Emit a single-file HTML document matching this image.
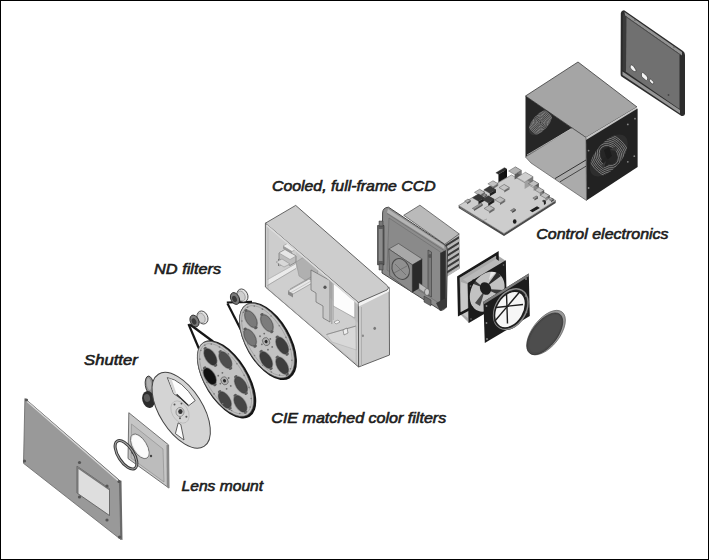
<!DOCTYPE html>
<html><head><meta charset="utf-8">
<style>
html,body{margin:0;padding:0;background:#fff;}
body{width:709px;height:560px;overflow:hidden;position:relative;}
svg{position:absolute;left:0;top:0;}
.t{font-family:"Liberation Sans",sans-serif;font-style:italic;font-weight:normal;font-size:14.6px;fill:#1c1c1c;stroke:#1c1c1c;stroke-width:0.6px;}
</style></head>
<body>
<svg width="709" height="560" viewBox="0 0 709 560">
<g>
<rect x="0" y="0" width="709" height="560" fill="#fff"/>
<path d="M620.8,13 Q621.5,10 624.5,10.4 L683,51 Q685,52.5 685,55 L685,114 Q684.5,116.5 681.5,116 L621.5,76.5 Q620.5,75.5 620.6,74 Z" fill="#2c2c2c"/>
<polygon points="624.5,12 682,52 682,55.5 625,15.5" fill="#929292" />
<polygon points="622.5,71.5 680,110 680,113.5 622.5,75" fill="#969696" />
<polygon points="626,16.5 679.5,54 679.5,109 625.5,71.5" fill="#707070" />
<polygon points="623,14 626.5,16.5 626,72 622.5,70" fill="#3a3a3a" />
<line x1="626" y1="16.8" x2="679.5" y2="54.3" stroke="#4a4a4a" stroke-width="0.9"/>
<path d="M630.2,65.8 Q631.5,64 633.5,66 L636,70 Q636.5,72.5 634,71.5 L631.5,69.5 Q629.8,68 630.2,65.8 Z" fill="#f4f4f4" stroke="#2a2a2a" stroke-width="0.6"/>
<path d="M641.5,73 Q642,72 643.5,73 L646.8,76 Q647.8,77 647.6,78.5 L647.4,80 Q647,81 645.5,80 L642.3,77.3 Q641.4,76.5 641.4,75 Z" fill="#f4f4f4" stroke="#2a2a2a" stroke-width="0.6"/>
<path d="M649.4,79.5 Q650,78.6 651.2,79.5 L653.2,81.5 Q654,82.5 653.6,83.6 Q653,84.4 651.8,83.6 L650,82 Q649.2,81 649.4,79.5 Z" fill="#f4f4f4" stroke="#2a2a2a" stroke-width="0.6"/>
<ellipse cx="668.5" cy="95" rx="0.9" ry="0.9" transform="rotate(0 668.5 95)" fill="#444" />
<ellipse cx="635" cy="20" rx="0.8" ry="0.8" transform="rotate(0 635 20)" fill="#555" />
<ellipse cx="674" cy="47" rx="0.8" ry="0.8" transform="rotate(0 674 47)" fill="#555" />
<polygon points="578,62 525.5,96 586,137.5 637,107" fill="#a5a5a5" stroke="#3a3a3a" stroke-width="0.8" />
<polygon points="586,137.5 637,107 637,110 586,140.5" fill="#c4c4c4" />
<polygon points="586,140 637.6,108.6 637.6,167 586.5,200.5" fill="#222222" />
<polygon points="525.5,96 572,128 525.5,157" fill="#262626" />
<polygon points="525.5,157 572,128 586,137.5 586.5,200.5 531,163" fill="#ababab" stroke="#444" stroke-width="0.6" />
<line x1="555" y1="178.6" x2="586" y2="160" stroke="#333" stroke-width="1.0"/>
<line x1="560" y1="181.8" x2="586" y2="166.2" stroke="#3a3a3a" stroke-width="0.9"/>
<line x1="527" y1="155" x2="571" y2="129" stroke="#c8c8c8" stroke-width="0.8"/>
<clipPath id="cpF1"><ellipse cx="608.8" cy="155.5" rx="25" ry="13" transform="rotate(-50 608.8 155.5)"/></clipPath>
<ellipse cx="608.8" cy="155.5" rx="25" ry="13" transform="rotate(-50 608.8 155.5)" fill="#2e2e2e" />
<g clip-path="url(#cpF1)">
<ellipse cx="608.8" cy="155.5" rx="19.0" ry="24.0" transform="rotate(-40 608.8 155.5)" fill="none" stroke="#8e8e8e" stroke-width="0.75" />
<ellipse cx="608.8" cy="155.5" rx="17.27" ry="21.82" transform="rotate(-40 608.8 155.5)" fill="none" stroke="#8e8e8e" stroke-width="0.75" />
<ellipse cx="608.8" cy="155.5" rx="15.55" ry="19.64" transform="rotate(-40 608.8 155.5)" fill="none" stroke="#8e8e8e" stroke-width="0.75" />
<ellipse cx="608.8" cy="155.5" rx="13.82" ry="17.45" transform="rotate(-40 608.8 155.5)" fill="none" stroke="#8e8e8e" stroke-width="0.75" />
<ellipse cx="608.8" cy="155.5" rx="12.09" ry="15.27" transform="rotate(-40 608.8 155.5)" fill="none" stroke="#8e8e8e" stroke-width="0.75" />
<ellipse cx="608.8" cy="155.5" rx="10.36" ry="13.09" transform="rotate(-40 608.8 155.5)" fill="none" stroke="#8e8e8e" stroke-width="0.75" />
<ellipse cx="608.8" cy="155.5" rx="8.64" ry="10.91" transform="rotate(-40 608.8 155.5)" fill="none" stroke="#8e8e8e" stroke-width="0.75" />
<ellipse cx="608.8" cy="155.5" rx="6.91" ry="8.73" transform="rotate(-40 608.8 155.5)" fill="none" stroke="#8e8e8e" stroke-width="0.75" />
<ellipse cx="608.8" cy="155.5" rx="5.18" ry="6.55" transform="rotate(-40 608.8 155.5)" fill="none" stroke="#8e8e8e" stroke-width="0.75" />
<ellipse cx="608.8" cy="155.5" rx="3.45" ry="4.36" transform="rotate(-40 608.8 155.5)" fill="none" stroke="#8e8e8e" stroke-width="0.75" />
<ellipse cx="608.8" cy="155.5" rx="1.73" ry="2.18" transform="rotate(-40 608.8 155.5)" fill="none" stroke="#8e8e8e" stroke-width="0.75" />
</g>
<ellipse cx="608.8" cy="155.5" rx="8" ry="9.5" transform="rotate(-40 608.8 155.5)" fill="#262626" />
<polygon points="604,150 609,147 612,156 607,160" fill="#1c1c1c" />
<polygon points="601,160 606,157 611,163 605,167" fill="#232323" />
<polygon points="610,150 616,146 617,151" fill="#3a3a3a" />
<polygon points="606,161 601,166 604,168" fill="#3a3a3a" />
<clipPath id="cpBack"><polygon points="525.5,96 572,128 525.5,157"/></clipPath>
<g clip-path="url(#cpBack)">
<clipPath id="cpF2"><ellipse cx="540.5" cy="122.5" rx="15" ry="8" transform="rotate(-48 540.5 122.5)"/></clipPath>
<ellipse cx="540.5" cy="122.5" rx="15" ry="8" transform="rotate(-48 540.5 122.5)" fill="#353535" />
<g clip-path="url(#cpF2)">
<ellipse cx="540.5" cy="122.5" rx="12.0" ry="14.0" transform="rotate(-40 540.5 122.5)" fill="none" stroke="#9a9a9a" stroke-width="0.7" />
<ellipse cx="540.5" cy="122.5" rx="10.67" ry="12.44" transform="rotate(-40 540.5 122.5)" fill="none" stroke="#9a9a9a" stroke-width="0.7" />
<ellipse cx="540.5" cy="122.5" rx="9.33" ry="10.89" transform="rotate(-40 540.5 122.5)" fill="none" stroke="#9a9a9a" stroke-width="0.7" />
<ellipse cx="540.5" cy="122.5" rx="8.0" ry="9.33" transform="rotate(-40 540.5 122.5)" fill="none" stroke="#9a9a9a" stroke-width="0.7" />
<ellipse cx="540.5" cy="122.5" rx="6.67" ry="7.78" transform="rotate(-40 540.5 122.5)" fill="none" stroke="#9a9a9a" stroke-width="0.7" />
<ellipse cx="540.5" cy="122.5" rx="5.33" ry="6.22" transform="rotate(-40 540.5 122.5)" fill="none" stroke="#9a9a9a" stroke-width="0.7" />
<ellipse cx="540.5" cy="122.5" rx="4.0" ry="4.67" transform="rotate(-40 540.5 122.5)" fill="none" stroke="#9a9a9a" stroke-width="0.7" />
<ellipse cx="540.5" cy="122.5" rx="2.67" ry="3.11" transform="rotate(-40 540.5 122.5)" fill="none" stroke="#9a9a9a" stroke-width="0.7" />
<ellipse cx="540.5" cy="122.5" rx="1.33" ry="1.56" transform="rotate(-40 540.5 122.5)" fill="none" stroke="#9a9a9a" stroke-width="0.7" />
</g>
</g>
<ellipse cx="627.8" cy="124.4" rx="0.9" ry="0.9" transform="rotate(0 627.8 124.4)" fill="#888" />
<ellipse cx="635" cy="118.7" rx="0.9" ry="0.9" transform="rotate(0 635 118.7)" fill="#888" />
<ellipse cx="588.6" cy="150.6" rx="0.9" ry="0.9" transform="rotate(0 588.6 150.6)" fill="#888" />
<ellipse cx="634.3" cy="156.2" rx="0.9" ry="0.9" transform="rotate(0 634.3 156.2)" fill="#888" />
<ellipse cx="627.8" cy="161.8" rx="0.9" ry="0.9" transform="rotate(0 627.8 161.8)" fill="#888" />
<ellipse cx="588.6" cy="188" rx="0.9" ry="0.9" transform="rotate(0 588.6 188)" fill="#888" />
<polygon points="458.7,205.5 504,233.5 555.7,200.5 555.7,203 504,236 458.7,208" fill="#4a4a4a" />
<polygon points="458.7,205.5 511.5,175 555.7,200.5 504,233.5" fill="#cdcdcd" stroke="#6a6a6a" stroke-width="0.6" />
<line x1="460" y1="207.5" x2="482" y2="221" stroke="#8a8a8a" stroke-width="0.6"/>
<line x1="482" y1="221" x2="487" y2="219" stroke="#8a8a8a" stroke-width="0.6"/>
<polygon points="498.43,182.36 506.96,177.15 506.96,169.15 498.43,174.36" fill="#141414" />
<polygon points="504.37,175.64 506.96,177.15 506.96,169.15 504.37,167.64" fill="#0e0e0e" />
<polygon points="495.84,172.85 504.37,167.64 506.96,169.15 498.43,174.36" fill="#2a2a2a" stroke="#3a3a3a" stroke-width="0.4" />
<polygon points="493.03,188.88 498.15,185.75 498.15,183.75 493.03,186.88" fill="#6a6a6a" />
<polygon points="492.97,182.72 498.15,185.75 498.15,183.75 492.97,180.72" fill="#8a8a8a" />
<polygon points="487.85,183.85 492.97,180.72 498.15,183.75 493.03,186.88" fill="#c2c2c2" stroke="#3a3a3a" stroke-width="0.4" />
<polygon points="489.83,196.29 495.81,192.64 495.81,189.64 489.83,193.29" fill="#1e1e1e" />
<polygon points="489.76,189.11 495.81,192.64 495.81,189.64 489.76,186.11" fill="#2a2a2a" />
<polygon points="483.79,189.76 489.76,186.11 495.81,189.64 489.83,193.29" fill="#3a3a3a" stroke="#3a3a3a" stroke-width="0.4" />
<polygon points="479.63,197.38 484.75,194.25 484.75,192.25 479.63,195.38" fill="#6a6a6a" />
<polygon points="479.57,191.22 484.75,194.25 484.75,192.25 479.57,189.22" fill="#8a8a8a" />
<polygon points="474.45,192.35 479.57,189.22 484.75,192.25 479.63,195.38" fill="#bcbcbc" stroke="#3a3a3a" stroke-width="0.4" />
<polygon points="478.53,204.29 484.51,200.64 484.51,197.64 478.53,201.29" fill="#1c1c1c" />
<polygon points="478.46,197.11 484.51,200.64 484.51,197.64 478.46,194.11" fill="#262626" />
<polygon points="472.49,197.76 478.46,194.11 484.51,197.64 478.53,201.29" fill="#363636" stroke="#3a3a3a" stroke-width="0.4" />
<polygon points="488.23,205.89 494.21,202.24 494.21,199.24 488.23,202.89" fill="#1e1e1e" />
<polygon points="488.16,198.71 494.21,202.24 494.21,199.24 488.16,195.71" fill="#2a2a2a" />
<polygon points="482.19,199.36 488.16,195.71 494.21,199.24 488.23,202.89" fill="#3a3a3a" stroke="#3a3a3a" stroke-width="0.4" />
<polygon points="504.23,192.58 509.35,189.45 509.35,187.45 504.23,190.58" fill="#6a6a6a" />
<polygon points="504.17,186.42 509.35,189.45 509.35,187.45 504.17,184.42" fill="#8a8a8a" />
<polygon points="499.05,187.55 504.17,184.42 509.35,187.45 504.23,190.58" fill="#c4c4c4" stroke="#3a3a3a" stroke-width="0.4" />
<polygon points="500.03,204.88 505.15,201.75 505.15,199.75 500.03,202.88" fill="#6a6a6a" />
<polygon points="499.97,198.72 505.15,201.75 505.15,199.75 499.97,196.72" fill="#8a8a8a" />
<polygon points="494.85,199.85 499.97,196.72 505.15,199.75 500.03,202.88" fill="#bdbdbd" stroke="#3a3a3a" stroke-width="0.4" />
<polygon points="489.23,213.48 494.35,210.35 494.35,208.35 489.23,211.48" fill="#6a6a6a" />
<polygon points="489.17,207.32 494.35,210.35 494.35,208.35 489.17,205.32" fill="#8a8a8a" />
<polygon points="484.05,208.45 489.17,205.32 494.35,208.35 489.23,211.48" fill="#bababa" stroke="#3a3a3a" stroke-width="0.4" />
<polygon points="467.09,204.2 470.5,202.12 470.5,200.62 467.09,202.7" fill="#555" />
<polygon points="467.91,200.6 470.5,202.12 470.5,200.62 467.91,199.1" fill="#777" />
<polygon points="464.5,201.18 467.91,199.1 470.5,200.62 467.09,202.7" fill="#b0b0b0" stroke="#3a3a3a" stroke-width="0.4" />
<polygon points="474.0,210.91 482.53,205.7 482.53,204.2 474.0,209.41" fill="#555" />
<polygon points="480.8,204.69 482.53,205.7 482.53,204.2 480.8,203.19" fill="#666" />
<polygon points="472.27,208.4 480.8,203.19 482.53,204.2 474.0,209.41" fill="#9a9a9a" stroke="#3a3a3a" stroke-width="0.4" />
<polygon points="484.51,197.54 487.07,195.98 487.07,194.98 484.51,196.54" fill="#444" />
<polygon points="484.49,194.46 487.07,195.98 487.07,194.98 484.49,193.46" fill="#555" />
<polygon points="481.93,195.02 484.49,193.46 487.07,194.98 484.51,196.54" fill="#888" stroke="#3a3a3a" stroke-width="0.4" />
<polygon points="514.61,179.55 521.43,175.38 521.43,170.38 514.61,174.55" fill="#5a5a5a" />
<polygon points="515.39,171.85 521.43,175.38 521.43,170.38 515.39,166.85" fill="#7a7a7a" />
<polygon points="508.57,171.02 515.39,166.85 521.43,170.38 514.61,174.55" fill="#b4b4b4" stroke="#3a3a3a" stroke-width="0.4" />
<polygon points="524.62,188.98 533.15,183.77 533.15,176.77 524.62,181.98" fill="#a0a0a0" />
<polygon points="525.38,179.22 533.15,183.77 533.15,176.77 525.38,172.22" fill="#7a7a7a" />
<polygon points="516.85,177.43 525.38,172.22 533.15,176.77 524.62,181.98" fill="#cfcfcf" stroke="#555" stroke-width="0.4" />
<polygon points="533.63,190.68 538.75,187.55 538.75,183.55 533.63,186.68" fill="#8a8a8a" />
<polygon points="533.57,184.52 538.75,187.55 538.75,183.55 533.57,180.52" fill="#5a5a5a" />
<polygon points="528.45,183.65 533.57,180.52 538.75,183.55 533.63,186.68" fill="#c0c0c0" stroke="#3a3a3a" stroke-width="0.4" />
<polygon points="539.86,196.02 544.12,193.41 544.12,190.41 539.86,193.02" fill="#8a8a8a" />
<polygon points="538.94,190.38 544.12,193.41 544.12,190.41 538.94,187.38" fill="#5a5a5a" />
<polygon points="534.68,189.99 538.94,187.38 544.12,190.41 539.86,193.02" fill="#c0c0c0" stroke="#3a3a3a" stroke-width="0.4" />
<polygon points="545.36,201.22 549.62,198.61 549.62,195.61 545.36,198.22" fill="#8a8a8a" />
<polygon points="544.44,195.58 549.62,198.61 549.62,195.61 544.44,192.58" fill="#5a5a5a" />
<polygon points="540.18,195.19 544.44,192.58 549.62,195.61 545.36,198.22" fill="#c0c0c0" stroke="#3a3a3a" stroke-width="0.4" />
<polygon points="543.91,205.03 545.62,203.98 545.62,200.98 543.91,202.03" fill="#222" />
<polygon points="543.89,202.97 545.62,203.98 545.62,200.98 543.89,199.97" fill="#222" />
<polygon points="542.18,201.02 543.89,199.97 545.62,200.98 543.91,202.03" fill="#333" stroke="#3a3a3a" stroke-width="0.4" />
<polygon points="534.56,200.55 537.97,198.46 537.97,196.96 534.56,199.05" fill="#555" />
<polygon points="536.24,197.45 537.97,198.46 537.97,196.96 536.24,195.95" fill="#666" />
<polygon points="532.83,198.04 536.24,195.95 537.97,196.96 534.56,199.05" fill="#9a9a9a" stroke="#3a3a3a" stroke-width="0.4" />
<polygon points="512.16,213.05 515.57,210.96 515.57,209.46 512.16,211.55" fill="#444" />
<polygon points="513.84,209.95 515.57,210.96 515.57,209.46 513.84,208.45" fill="#555" />
<polygon points="510.43,210.54 513.84,208.45 515.57,209.46 512.16,211.55" fill="#8a8a8a" stroke="#3a3a3a" stroke-width="0.4" />
<polygon points="531,210.5 537,207 538.5,208 532.5,211.5" fill="#1e1e1e" stroke="#1e1e1e" stroke-width="1.4" />
<ellipse cx="514.7" cy="221.5" rx="1.8" ry="2.3" transform="rotate(0 514.7 221.5)" fill="#1e1e1e" />
<polygon points="551.08,202.29 553.64,200.72 553.64,199.22 551.08,200.79" fill="#444" />
<polygon points="551.92,199.71 553.64,200.72 553.64,199.22 551.92,198.21" fill="#555" />
<polygon points="549.36,199.78 551.92,198.21 553.64,199.22 551.08,200.79" fill="#999" stroke="#3a3a3a" stroke-width="0.4" />
<polygon points="443,244 459.2,233.9 459.5,268.5 443.5,278" fill="#3a3a3a" />
<polygon points="443.3,243.4 459.2,233.6 459.2,236.1 443.3,245.9" fill="#b8b8b8" />
<line x1="443.3" y1="243.2" x2="459.2" y2="233.4" stroke="#e0e0e0" stroke-width="0.6"/>
<polygon points="443.3,248.9 459.2,239.1 459.2,241.6 443.3,251.4" fill="#b8b8b8" />
<line x1="443.3" y1="248.7" x2="459.2" y2="238.9" stroke="#e0e0e0" stroke-width="0.6"/>
<polygon points="443.3,254.4 459.2,244.6 459.2,247.1 443.3,256.9" fill="#b8b8b8" />
<line x1="443.3" y1="254.2" x2="459.2" y2="244.4" stroke="#e0e0e0" stroke-width="0.6"/>
<polygon points="443.3,259.9 459.2,250.1 459.2,252.6 443.3,262.4" fill="#b8b8b8" />
<line x1="443.3" y1="259.7" x2="459.2" y2="249.9" stroke="#e0e0e0" stroke-width="0.6"/>
<polygon points="443.3,265.4 459.2,255.6 459.2,258.1 443.3,267.9" fill="#b8b8b8" />
<line x1="443.3" y1="265.2" x2="459.2" y2="255.4" stroke="#e0e0e0" stroke-width="0.6"/>
<polygon points="443.3,270.90000000000003 459.2,261.1 459.2,263.6 443.3,273.40000000000003" fill="#b8b8b8" />
<line x1="443.3" y1="270.70000000000005" x2="459.2" y2="260.90000000000003" stroke="#e0e0e0" stroke-width="0.6"/>
<polygon points="443.3,276.40000000000003 459.2,266.6 459.2,269.1 443.3,278.90000000000003" fill="#b8b8b8" />
<line x1="443.3" y1="276.20000000000005" x2="459.2" y2="266.40000000000003" stroke="#e0e0e0" stroke-width="0.6"/>
<polygon points="403.7,215.3 419.9,205.2 459.2,233.9 444.8,244.3" fill="#bababa" stroke="#444" stroke-width="0.7" />
<polygon points="444.8,247.2 447,246 447,306 445.7,309" fill="#3a3a3a" />
<path d="M382.6,213 Q382.6,207.6 388.5,207.2 L444.5,244.5 Q448,247 447.5,252 L446.5,305 Q446,309.5 441,310.5 L382,273 Z" fill="#8c8c8c" stroke="#3a3a3a" stroke-width="0.9"/>
<polygon points="388,209 444,245.5 444.5,249 387,212.5" fill="#b4b4b4" />
<line x1="387" y1="213.5" x2="444" y2="250.5" stroke="#6a6a6a" stroke-width="0.7"/>
<polygon points="389,218 440.5,252 440.5,304 387,270" fill="#8a8a8a" stroke="#6a6a6a" stroke-width="0.6" />
<polygon points="440.3,253 445.8,250 445.8,305 440.3,306" fill="#2e2e2e" />
<polygon points="428,250 431.5,252 431.5,297 428,295" fill="#7a7a7a" stroke="#3a3a3a" stroke-width="0.6" />
<ellipse cx="430" cy="256" rx="2" ry="2" transform="rotate(0 430 256)" fill="#555" />
<polygon points="388.8,249 398.5,243.5 422.2,259 412.3,264.8" fill="#a8a8a8" stroke="#444" stroke-width="0.6" />
<polygon points="388.8,249 412.3,264.8 412.3,292.4 389.7,275.7" fill="#8a8a8a" stroke="#444" stroke-width="0.6" />
<polygon points="412.3,264.8 422.2,259 422.2,286.5 412.3,292.4" fill="#2a2a2a" />
<ellipse cx="400.7" cy="269" rx="8.3" ry="10.8" transform="rotate(-25 400.7 269)" fill="#909090" stroke="#4a4a4a" stroke-width="1.0" />
<line x1="395" y1="264" x2="406" y2="275" stroke="#666" stroke-width="0.7"/>
<line x1="394" y1="273" x2="407" y2="266" stroke="#666" stroke-width="0.7"/>
<polygon points="419,283 428,289 428,295 419,289" fill="#bdbdbd" stroke="#555" stroke-width="0.5" />
<ellipse cx="427" cy="292" rx="2.5" ry="3.5" transform="rotate(0 427 292)" fill="#c8c8c8" stroke="#444" stroke-width="0.6" />
<polygon points="424,296 431,300 431,306 424,302" fill="#6a6a6a" stroke="#333" stroke-width="0.5" />
<polygon points="436,303 446,298 447,307 440,311" fill="#3a3a3a" />
<polygon points="377.5,225.5 384,225.5 384,264.8 377.5,264.8" fill="#5c5c5c" stroke="#2a2a2a" stroke-width="0.6" />
<polygon points="378.8,229 382.5,229 382.5,261 378.8,261" fill="#8c8c8c" />
<polygon points="379,221 383,221 383,226 379,226" fill="#777" stroke="#333" stroke-width="0.5" />
<polygon points="379,264 383,264 383,270 379,270" fill="#777" stroke="#333" stroke-width="0.5" />
<polygon points="459.5,278 497,255 506,261 506,301 469,323 459.5,313.5" fill="#a9a9a9" />
<polygon points="461,282 467,284 468,318 461,313" fill="#c8c8c8" />
<polygon points="458.4,277.1 497.4,253.4 498,294 459.2,314.4" fill="none" stroke="#1a1a1a" stroke-width="2.6" />
<polygon points="463,279.5 496,259 503,263.5 470,284" fill="#b9b9b9" />
<ellipse cx="487.2" cy="291.7" rx="21.5" ry="16" transform="rotate(-59 487.2 291.7)" fill="#c2c2c2" />
<polygon points="486,287 497,272 501,276" fill="#2e2e2e" />
<polygon points="486,289 503,290 501,296" fill="#3a3a3a" />
<polygon points="485,290 480,306 475,303" fill="#4a4a4a" />
<polygon points="484,288 471,283 473,279" fill="#3a3a3a" />
<polygon points="489,280 496,272 491,271" fill="#e8e8e8" />
<polygon points="490,296 498,303 494,306" fill="#e4e4e4" />
<ellipse cx="485.5" cy="288.5" rx="5.5" ry="6.5" transform="rotate(-25 485.5 288.5)" fill="#1e1e1e" />
<path d="M467.7,283 L505.8,260.2 L506.7,300.8 L468.6,322.9 Z M498.17,273.44 L499.84,274.66 L501.3,276.17 L502.52,277.95 L503.47,279.96 L504.15,282.17 L504.53,284.54 L504.62,287.04 L504.41,289.62 L503.91,292.23 L503.12,294.83 L502.06,297.38 L500.74,299.84 L499.2,302.15 L497.44,304.29 L495.51,306.21 L493.44,307.88 L491.27,309.27 L489.02,310.36 L486.74,311.14 L484.47,311.58 L482.25,311.68 L480.11,311.44 L478.09,310.86 L476.23,309.96 L474.56,308.74 L473.1,307.23 L471.88,305.45 L470.93,303.44 L470.25,301.23 L469.87,298.86 L469.78,296.36 L469.99,293.78 L470.49,291.17 L471.28,288.57 L472.34,286.02 L473.66,283.56 L475.2,281.25 L476.96,279.11 L478.89,277.19 L480.96,275.52 L483.13,274.13 L485.38,273.04 L487.66,272.26 L489.93,271.82 L492.15,271.72 L494.29,271.96 L496.31,272.54 Z" fill="#1c1c1c" fill-rule="evenodd"/>
<ellipse cx="470.5" cy="286" rx="0.8" ry="0.8" transform="rotate(0 470.5 286)" fill="#777" />
<ellipse cx="503.5" cy="265" rx="0.8" ry="0.8" transform="rotate(0 503.5 265)" fill="#777" />
<ellipse cx="471" cy="319" rx="0.8" ry="0.8" transform="rotate(0 471 319)" fill="#777" />
<ellipse cx="504" cy="297" rx="0.8" ry="0.8" transform="rotate(0 504 297)" fill="#777" />
<polygon points="483.4,301.7 528.8,273.5 529.8,316 484.8,343" fill="#1c1c1c" />
<polygon points="483.4,301.7 528.8,273.5 529.2,276 484,304.2" fill="#7a7a7a" />
<ellipse cx="510.6" cy="309.2" rx="22.5" ry="16" transform="rotate(-59 510.6 309.2)" fill="#2a2a2a" />
<ellipse cx="510.8" cy="309" rx="21.8" ry="15.2" transform="rotate(-59 510.8 309)" fill="none" stroke="#8c8c8c" stroke-width="1.4" />
<ellipse cx="510" cy="309.6" rx="19.8" ry="13.6" transform="rotate(-59 510 309.6)" fill="#f6f6f6" />
<ellipse cx="510" cy="309.6" rx="19.8" ry="13.6" transform="rotate(-59 510 309.6)" fill="none" stroke="#1e1e1e" stroke-width="1.5" />
<line x1="506.5" y1="293" x2="507.5" y2="323.5" stroke="#1e1e1e" stroke-width="1.4"/>
<line x1="496" y1="307.5" x2="523" y2="304.5" stroke="#1e1e1e" stroke-width="1.4"/>
<line x1="494.5" y1="321.5" x2="520" y2="291.5" stroke="#1e1e1e" stroke-width="1.4"/>
<ellipse cx="486.5" cy="306" rx="0.9" ry="0.9" transform="rotate(0 486.5 306)" fill="#8a8a8a" />
<ellipse cx="486.5" cy="323" rx="0.9" ry="0.9" transform="rotate(0 486.5 323)" fill="#8a8a8a" />
<ellipse cx="487" cy="339" rx="0.9" ry="0.9" transform="rotate(0 487 339)" fill="#8a8a8a" />
<ellipse cx="526" cy="279" rx="0.9" ry="0.9" transform="rotate(0 526 279)" fill="#8a8a8a" />
<ellipse cx="526" cy="296" rx="0.9" ry="0.9" transform="rotate(0 526 296)" fill="#8a8a8a" />
<ellipse cx="526.5" cy="312" rx="0.9" ry="0.9" transform="rotate(0 526.5 312)" fill="#8a8a8a" />
<ellipse cx="546.1" cy="332.6" rx="26.1" ry="13.7" transform="rotate(-52.2 546.1 332.6)" fill="#9a9a9a" stroke="#555" stroke-width="0.6" />
<ellipse cx="544.8" cy="333.8" rx="24.6" ry="12.4" transform="rotate(-52.2 544.8 333.8)" fill="#484848" stroke="#2a2a2a" stroke-width="0.6" />
<ellipse cx="545.2" cy="333.4" rx="22.5" ry="10.8" transform="rotate(-52.2 545.2 333.4)" fill="#4d4d4d" />
<polygon points="265.4,223.2 358.4,302.5 358.6,367 265.4,287" fill="#cccccc" />
<polygon points="267.5,226.5 296,249.5 296,266 267.5,282.5" fill="#cdcdcd" />
<polygon points="296,249.5 358,303 358,323 296,268" fill="#c4c4c4" />
<polygon points="267.5,284 296,268 358,323 358,364 268,287" fill="#cfcfcf" />
<polygon points="267.5,280 296,264 296,268 267.5,285" fill="#ebebeb" />
<line x1="267.5" y1="285.5" x2="296" y2="268.5" stroke="#9a9a9a" stroke-width="0.7"/>
<line x1="267.5" y1="279.5" x2="296" y2="263.5" stroke="#aaa" stroke-width="0.6"/>
<polygon points="279,253 285,249.5 296,256 296,262 290,265.5 279,259" fill="#bdbdbd" stroke="#666" stroke-width="0.6" />
<polygon points="279,253 285,249.5 296,256 290,259.5" fill="#e6e6e6" stroke="#888" stroke-width="0.5" />
<polygon points="283,246 289,242.5 298,248 292,251.5" fill="#ececec" stroke="#888" stroke-width="0.5" />
<polygon points="283,246 292,251.5 292,254 283,248.5" fill="#9a9a9a" />
<line x1="278.5" y1="259" x2="278.5" y2="266" stroke="#666" stroke-width="0.8"/>
<line x1="279" y1="266" x2="287" y2="262" stroke="#888" stroke-width="0.6"/>
<polygon points="276,262 282,259 290,264 284,267" fill="#d8d8d8" stroke="#888" stroke-width="0.5" />
<path d="M296,262 L303,257.5 L313,261 L318,270 L316,280 L308,282 L299,276 Z" fill="#b0b0b0" stroke="#8a8a8a" stroke-width="0.5"/>
<polygon points="288,291 309,279 314,282 293,294" fill="#e8e8e8" stroke="#777" stroke-width="0.5" />
<polygon points="288,291 293,294 293,297.5 288,294.5" fill="#8a8a8a" />
<line x1="290" y1="289" x2="311" y2="277" stroke="#888" stroke-width="0.6"/>
<line x1="291" y1="292.5" x2="312" y2="280.5" stroke="#aaa" stroke-width="0.5"/>
<polygon points="311,270 330,280.5 330,322 323,318 323,306 316,302 316,293 311,290" fill="#c8c8c8" stroke="#5a5a5a" stroke-width="0.6" />
<ellipse cx="325" cy="287.3" rx="1.6" ry="1.8" transform="rotate(0 325 287.3)" fill="#555" />
<line x1="331.8" y1="281" x2="331.8" y2="324" stroke="#8a8a8a" stroke-width="0.8"/>
<polygon points="333.3,283 354.8,298.5 354.8,318 333.3,306" fill="#fcfcfc" stroke="#8a8a8a" stroke-width="0.6" />
<line x1="333.3" y1="306" x2="333.3" y2="320" stroke="#999" stroke-width="0.6"/>
<polygon points="334,322 338,320 340,322 336,324" fill="#f4f4f4" stroke="#666" stroke-width="0.5" />
<polygon points="326.5,334.5 356,326 356.5,350 332,342" fill="#d8d8d8" stroke="#aaa" stroke-width="0.5" />
<line x1="326.5" y1="334.5" x2="356" y2="326" stroke="#7a7a7a" stroke-width="0.7"/>
<polygon points="343,330 347,328 348,333 344,335" fill="#eee" stroke="#555" stroke-width="0.5" />
<polygon points="265.4,223.2 358.4,302.5 358.6,367 265.4,287" fill="none" stroke="#555" stroke-width="0.9" />
<polygon points="268,226.5 356,302.5 356.2,364 268,289.5" fill="none" stroke="#a8a8a8" stroke-width="0.6" />
<polygon points="389.2,287.4 358.4,302.5 358.6,367 389.5,355" fill="#cacaca" stroke="#555" stroke-width="0.9" />
<polygon points="358.6,303 389,288 389,291.5 358.8,306.5" fill="#f2f2f2" />
<line x1="361.5" y1="307" x2="361.5" y2="366" stroke="#a8a8a8" stroke-width="0.8"/>
<ellipse cx="374.7" cy="328.3" rx="1.3" ry="1.6" transform="rotate(0 374.7 328.3)" fill="#777" />
<ellipse cx="362.9" cy="335.8" rx="1.1" ry="1.3" transform="rotate(0 362.9 335.8)" fill="#888" />
<path d="M265.4,223.2 L295.7,205.4 L386,284.5 Q390,287.5 387,290 L358.4,302.5 Z" fill="#cdcdcd" stroke="#555" stroke-width="0.9"/>
<polygon points="266.5,224 357.5,302 357.8,304.5 266.7,226.5" fill="#dcdcdc" />
<line x1="226.8" y1="302.5" x2="252" y2="301.8" stroke="#161616" stroke-width="2.2"/>
<line x1="227.5" y1="303.5" x2="241" y2="330" stroke="#161616" stroke-width="2.2"/>
<ellipse cx="268" cy="341.2" rx="43" ry="22.4" transform="rotate(60 268 341.2)" fill="#151515" />
<ellipse cx="266.9" cy="340.59999999999997" rx="41.4" ry="20.9" transform="rotate(60 266.9 340.59999999999997)" fill="#c2c2c2" stroke="#555" stroke-width="0.6" />
<ellipse cx="266.9" cy="340.59999999999997" rx="39" ry="18.599999999999998" transform="rotate(60 266.9 340.59999999999997)" fill="none" stroke="#9a9a9a" stroke-width="0.7" />
<ellipse cx="250.9" cy="319.1" rx="10.2" ry="5.9" transform="rotate(60 250.9 319.1)" fill="#a4a4a4" />
<ellipse cx="250.9" cy="319.1" rx="9.2" ry="4.9" transform="rotate(60 250.9 319.1)" fill="#7a7a7a" stroke="#2a2a2a" stroke-width="0.4" />
<ellipse cx="245.9" cy="310.44" rx="1.8" ry="1.3" transform="rotate(150 245.9 310.44)" fill="#5a5a5a" />
<ellipse cx="255.9" cy="327.76" rx="1.8" ry="1.3" transform="rotate(150 255.9 327.76)" fill="#5a5a5a" />
<ellipse cx="266.9" cy="323.1" rx="10.2" ry="5.9" transform="rotate(60 266.9 323.1)" fill="#a4a4a4" />
<ellipse cx="266.9" cy="323.1" rx="9.2" ry="4.9" transform="rotate(60 266.9 323.1)" fill="#7c7c7c" stroke="#2a2a2a" stroke-width="0.4" />
<ellipse cx="261.9" cy="314.44" rx="1.8" ry="1.3" transform="rotate(150 261.9 314.44)" fill="#5a5a5a" />
<ellipse cx="271.9" cy="331.76" rx="1.8" ry="1.3" transform="rotate(150 271.9 331.76)" fill="#5a5a5a" />
<ellipse cx="250.1" cy="337.6" rx="10.2" ry="5.9" transform="rotate(60 250.1 337.6)" fill="#a4a4a4" />
<ellipse cx="250.1" cy="337.6" rx="9.2" ry="4.9" transform="rotate(60 250.1 337.6)" fill="#777777" stroke="#2a2a2a" stroke-width="0.4" />
<ellipse cx="245.1" cy="328.94" rx="1.8" ry="1.3" transform="rotate(150 245.1 328.94)" fill="#5a5a5a" />
<ellipse cx="255.1" cy="346.26" rx="1.8" ry="1.3" transform="rotate(150 255.1 346.26)" fill="#5a5a5a" />
<ellipse cx="282.2" cy="345.6" rx="10.2" ry="5.9" transform="rotate(60 282.2 345.6)" fill="#a4a4a4" />
<ellipse cx="282.2" cy="345.6" rx="9.2" ry="4.9" transform="rotate(60 282.2 345.6)" fill="#3e3e3e" stroke="#2a2a2a" stroke-width="0.4" />
<ellipse cx="277.2" cy="336.94" rx="1.8" ry="1.3" transform="rotate(150 277.2 336.94)" fill="#5a5a5a" />
<ellipse cx="287.2" cy="354.26" rx="1.8" ry="1.3" transform="rotate(150 287.2 354.26)" fill="#5a5a5a" />
<ellipse cx="266.1" cy="360" rx="10.2" ry="5.9" transform="rotate(60 266.1 360)" fill="#a4a4a4" />
<ellipse cx="266.1" cy="360" rx="9.2" ry="4.9" transform="rotate(60 266.1 360)" fill="#3c3c3c" stroke="#2a2a2a" stroke-width="0.4" />
<ellipse cx="261.1" cy="351.34" rx="1.8" ry="1.3" transform="rotate(150 261.1 351.34)" fill="#5a5a5a" />
<ellipse cx="271.1" cy="368.66" rx="1.8" ry="1.3" transform="rotate(150 271.1 368.66)" fill="#5a5a5a" />
<ellipse cx="282.2" cy="365.7" rx="10.2" ry="5.9" transform="rotate(60 282.2 365.7)" fill="#a4a4a4" />
<ellipse cx="282.2" cy="365.7" rx="9.2" ry="4.9" transform="rotate(60 282.2 365.7)" fill="#3e3e3e" stroke="#2a2a2a" stroke-width="0.4" />
<ellipse cx="277.2" cy="357.04" rx="1.8" ry="1.3" transform="rotate(150 277.2 357.04)" fill="#5a5a5a" />
<ellipse cx="287.2" cy="374.36" rx="1.8" ry="1.3" transform="rotate(150 287.2 374.36)" fill="#5a5a5a" />
<ellipse cx="286.15" cy="373.94" rx="0.8" ry="0.8" transform="rotate(0 286.15 373.94)" fill="#7a7a7a" />
<ellipse cx="279.54" cy="375.08" rx="0.8" ry="0.8" transform="rotate(0 279.54 375.08)" fill="#7a7a7a" />
<ellipse cx="271.4" cy="372.06" rx="0.8" ry="0.8" transform="rotate(0 271.4 372.06)" fill="#7a7a7a" />
<ellipse cx="262.72" cy="365.24" rx="0.8" ry="0.8" transform="rotate(0 262.72 365.24)" fill="#7a7a7a" />
<ellipse cx="254.55" cy="355.45" rx="0.8" ry="0.8" transform="rotate(0 254.55 355.45)" fill="#7a7a7a" />
<ellipse cx="247.86" cy="343.87" rx="0.8" ry="0.8" transform="rotate(0 247.86 343.87)" fill="#7a7a7a" />
<ellipse cx="243.47" cy="331.9" rx="0.8" ry="0.8" transform="rotate(0 243.47 331.9)" fill="#7a7a7a" />
<ellipse cx="241.91" cy="320.97" rx="0.8" ry="0.8" transform="rotate(0 241.91 320.97)" fill="#7a7a7a" />
<ellipse cx="243.36" cy="312.42" rx="0.8" ry="0.8" transform="rotate(0 243.36 312.42)" fill="#7a7a7a" />
<ellipse cx="247.65" cy="307.26" rx="0.8" ry="0.8" transform="rotate(0 247.65 307.26)" fill="#7a7a7a" />
<ellipse cx="254.26" cy="306.12" rx="0.8" ry="0.8" transform="rotate(0 254.26 306.12)" fill="#7a7a7a" />
<ellipse cx="262.4" cy="309.14" rx="0.8" ry="0.8" transform="rotate(0 262.4 309.14)" fill="#7a7a7a" />
<ellipse cx="271.07" cy="315.96" rx="0.8" ry="0.8" transform="rotate(0 271.07 315.96)" fill="#7a7a7a" />
<ellipse cx="279.25" cy="325.75" rx="0.8" ry="0.8" transform="rotate(0 279.25 325.75)" fill="#7a7a7a" />
<ellipse cx="285.94" cy="337.33" rx="0.8" ry="0.8" transform="rotate(0 285.94 337.33)" fill="#7a7a7a" />
<ellipse cx="290.32" cy="349.3" rx="0.8" ry="0.8" transform="rotate(0 290.32 349.3)" fill="#7a7a7a" />
<ellipse cx="291.89" cy="360.23" rx="0.8" ry="0.8" transform="rotate(0 291.89 360.23)" fill="#7a7a7a" />
<ellipse cx="290.44" cy="368.78" rx="0.8" ry="0.8" transform="rotate(0 290.44 368.78)" fill="#7a7a7a" />
<ellipse cx="267.97" cy="349.64" rx="0.9" ry="0.9" transform="rotate(0 267.97 349.64)" fill="#6a6a6a" />
<ellipse cx="261.88" cy="344.28" rx="0.9" ry="0.9" transform="rotate(0 261.88 344.28)" fill="#6a6a6a" />
<ellipse cx="260.0" cy="336.24" rx="0.9" ry="0.9" transform="rotate(0 260.0 336.24)" fill="#6a6a6a" />
<ellipse cx="264.23" cy="333.56" rx="0.9" ry="0.9" transform="rotate(0 264.23 333.56)" fill="#6a6a6a" />
<ellipse cx="270.32" cy="338.92" rx="0.9" ry="0.9" transform="rotate(0 270.32 338.92)" fill="#6a6a6a" />
<ellipse cx="272.2" cy="346.96" rx="0.9" ry="0.9" transform="rotate(0 272.2 346.96)" fill="#6a6a6a" />
<ellipse cx="266.1" cy="341.6" rx="4.2" ry="3.4" transform="rotate(60 266.1 341.6)" fill="#b0b0b0" stroke="#555" stroke-width="0.6" />
<ellipse cx="266.1" cy="341.6" rx="1.7" ry="1.5" transform="rotate(60 266.1 341.6)" fill="#2a2a2a" />
<ellipse cx="242.5" cy="295.5" rx="5.2" ry="6.8" transform="rotate(-25 242.5 295.5)" fill="#e2e2e2" stroke="#3a3a3a" stroke-width="0.8" />
<ellipse cx="241.3" cy="296.0" rx="3.6" ry="5.2" transform="rotate(-25 241.3 296.0)" fill="#cfcfcf" stroke="#777" stroke-width="0.5" />
<ellipse cx="235" cy="298.5" rx="4.2" ry="6.2" transform="rotate(-25 235 298.5)" fill="#7a7a7a" stroke="#222" stroke-width="0.8" />
<ellipse cx="234.5" cy="299.0" rx="2.2" ry="3.2" transform="rotate(-25 234.5 299.0)" fill="#3a3a3a" />
<line x1="188.5" y1="324" x2="199.5" y2="350" stroke="#161616" stroke-width="2.2"/>
<line x1="190" y1="324.5" x2="213" y2="341.5" stroke="#161616" stroke-width="2.2"/>
<ellipse cx="226.6" cy="379.4" rx="43.9" ry="21.9" transform="rotate(58.3 226.6 379.4)" fill="#151515" />
<ellipse cx="225.5" cy="378.79999999999995" rx="42.3" ry="20.4" transform="rotate(58.3 225.5 378.79999999999995)" fill="#c2c2c2" stroke="#555" stroke-width="0.6" />
<ellipse cx="225.5" cy="378.79999999999995" rx="39.9" ry="18.099999999999998" transform="rotate(58.3 225.5 378.79999999999995)" fill="none" stroke="#9a9a9a" stroke-width="0.7" />
<ellipse cx="210.4" cy="356.9" rx="10.2" ry="5.9" transform="rotate(58.3 210.4 356.9)" fill="#a4a4a4" />
<ellipse cx="210.4" cy="356.9" rx="9.2" ry="4.9" transform="rotate(58.3 210.4 356.9)" fill="#333333" stroke="#2a2a2a" stroke-width="0.4" />
<ellipse cx="205.15" cy="348.39" rx="1.8" ry="1.3" transform="rotate(148.3 205.15 348.39)" fill="#5a5a5a" />
<ellipse cx="215.65" cy="365.41" rx="1.8" ry="1.3" transform="rotate(148.3 215.65 365.41)" fill="#5a5a5a" />
<ellipse cx="225.4" cy="360" rx="10.2" ry="5.9" transform="rotate(58.3 225.4 360)" fill="#a4a4a4" />
<ellipse cx="225.4" cy="360" rx="9.2" ry="4.9" transform="rotate(58.3 225.4 360)" fill="#4e4e4e" stroke="#2a2a2a" stroke-width="0.4" />
<ellipse cx="220.15" cy="351.49" rx="1.8" ry="1.3" transform="rotate(148.3 220.15 351.49)" fill="#5a5a5a" />
<ellipse cx="230.65" cy="368.51" rx="1.8" ry="1.3" transform="rotate(148.3 230.65 368.51)" fill="#5a5a5a" />
<ellipse cx="209.8" cy="376.3" rx="10.2" ry="5.9" transform="rotate(58.3 209.8 376.3)" fill="#a4a4a4" />
<ellipse cx="209.8" cy="376.3" rx="9.2" ry="4.9" transform="rotate(58.3 209.8 376.3)" fill="#111111" stroke="#2a2a2a" stroke-width="0.4" />
<ellipse cx="204.55" cy="367.79" rx="1.8" ry="1.3" transform="rotate(148.3 204.55 367.79)" fill="#5a5a5a" />
<ellipse cx="215.05" cy="384.81" rx="1.8" ry="1.3" transform="rotate(148.3 215.05 384.81)" fill="#5a5a5a" />
<ellipse cx="241" cy="385" rx="10.2" ry="5.9" transform="rotate(58.3 241 385)" fill="#a4a4a4" />
<ellipse cx="241" cy="385" rx="9.2" ry="4.9" transform="rotate(58.3 241 385)" fill="#4a4a4a" stroke="#2a2a2a" stroke-width="0.4" />
<ellipse cx="235.75" cy="376.49" rx="1.8" ry="1.3" transform="rotate(148.3 235.75 376.49)" fill="#5a5a5a" />
<ellipse cx="246.25" cy="393.51" rx="1.8" ry="1.3" transform="rotate(148.3 246.25 393.51)" fill="#5a5a5a" />
<ellipse cx="224.8" cy="400" rx="10.2" ry="5.9" transform="rotate(58.3 224.8 400)" fill="#a4a4a4" />
<ellipse cx="224.8" cy="400" rx="9.2" ry="4.9" transform="rotate(58.3 224.8 400)" fill="#454545" stroke="#2a2a2a" stroke-width="0.4" />
<ellipse cx="219.55" cy="391.49" rx="1.8" ry="1.3" transform="rotate(148.3 219.55 391.49)" fill="#5a5a5a" />
<ellipse cx="230.05" cy="408.51" rx="1.8" ry="1.3" transform="rotate(148.3 230.05 408.51)" fill="#5a5a5a" />
<ellipse cx="240.4" cy="403.8" rx="10.2" ry="5.9" transform="rotate(58.3 240.4 403.8)" fill="#a4a4a4" />
<ellipse cx="240.4" cy="403.8" rx="9.2" ry="4.9" transform="rotate(58.3 240.4 403.8)" fill="#454545" stroke="#2a2a2a" stroke-width="0.4" />
<ellipse cx="235.15" cy="395.29" rx="1.8" ry="1.3" transform="rotate(148.3 235.15 395.29)" fill="#5a5a5a" />
<ellipse cx="245.65" cy="412.31" rx="1.8" ry="1.3" transform="rotate(148.3 245.65 412.31)" fill="#5a5a5a" />
<ellipse cx="246.2" cy="412.32" rx="0.8" ry="0.8" transform="rotate(0 246.2 412.32)" fill="#7a7a7a" />
<ellipse cx="239.75" cy="413.52" rx="0.8" ry="0.8" transform="rotate(0 239.75 413.52)" fill="#7a7a7a" />
<ellipse cx="231.57" cy="410.53" rx="0.8" ry="0.8" transform="rotate(0 231.57 410.53)" fill="#7a7a7a" />
<ellipse cx="222.66" cy="403.71" rx="0.8" ry="0.8" transform="rotate(0 222.66 403.71)" fill="#7a7a7a" />
<ellipse cx="214.1" cy="393.88" rx="0.8" ry="0.8" transform="rotate(0 214.1 393.88)" fill="#7a7a7a" />
<ellipse cx="206.91" cy="382.24" rx="0.8" ry="0.8" transform="rotate(0 206.91 382.24)" fill="#7a7a7a" />
<ellipse cx="201.96" cy="370.18" rx="0.8" ry="0.8" transform="rotate(0 201.96 370.18)" fill="#7a7a7a" />
<ellipse cx="199.85" cy="359.17" rx="0.8" ry="0.8" transform="rotate(0 199.85 359.17)" fill="#7a7a7a" />
<ellipse cx="200.84" cy="350.52" rx="0.8" ry="0.8" transform="rotate(0 200.84 350.52)" fill="#7a7a7a" />
<ellipse cx="204.8" cy="345.28" rx="0.8" ry="0.8" transform="rotate(0 204.8 345.28)" fill="#7a7a7a" />
<ellipse cx="211.25" cy="344.08" rx="0.8" ry="0.8" transform="rotate(0 211.25 344.08)" fill="#7a7a7a" />
<ellipse cx="219.43" cy="347.07" rx="0.8" ry="0.8" transform="rotate(0 219.43 347.07)" fill="#7a7a7a" />
<ellipse cx="228.34" cy="353.89" rx="0.8" ry="0.8" transform="rotate(0 228.34 353.89)" fill="#7a7a7a" />
<ellipse cx="236.9" cy="363.72" rx="0.8" ry="0.8" transform="rotate(0 236.9 363.72)" fill="#7a7a7a" />
<ellipse cx="244.09" cy="375.36" rx="0.8" ry="0.8" transform="rotate(0 244.09 375.36)" fill="#7a7a7a" />
<ellipse cx="249.04" cy="387.42" rx="0.8" ry="0.8" transform="rotate(0 249.04 387.42)" fill="#7a7a7a" />
<ellipse cx="251.15" cy="398.43" rx="0.8" ry="0.8" transform="rotate(0 251.15 398.43)" fill="#7a7a7a" />
<ellipse cx="250.16" cy="407.08" rx="0.8" ry="0.8" transform="rotate(0 250.16 407.08)" fill="#7a7a7a" />
<ellipse cx="226.61" cy="388.78" rx="0.9" ry="0.9" transform="rotate(0 226.61 388.78)" fill="#6a6a6a" />
<ellipse cx="220.36" cy="383.61" rx="0.9" ry="0.9" transform="rotate(0 220.36 383.61)" fill="#6a6a6a" />
<ellipse cx="218.25" cy="375.63" rx="0.9" ry="0.9" transform="rotate(0 218.25 375.63)" fill="#6a6a6a" />
<ellipse cx="222.39" cy="372.82" rx="0.9" ry="0.9" transform="rotate(0 222.39 372.82)" fill="#6a6a6a" />
<ellipse cx="228.64" cy="377.99" rx="0.9" ry="0.9" transform="rotate(0 228.64 377.99)" fill="#6a6a6a" />
<ellipse cx="230.75" cy="385.97" rx="0.9" ry="0.9" transform="rotate(0 230.75 385.97)" fill="#6a6a6a" />
<ellipse cx="224.5" cy="380.8" rx="4.2" ry="3.4" transform="rotate(58.3 224.5 380.8)" fill="#b0b0b0" stroke="#555" stroke-width="0.6" />
<ellipse cx="224.5" cy="380.8" rx="1.7" ry="1.5" transform="rotate(58.3 224.5 380.8)" fill="#2a2a2a" />
<ellipse cx="202.5" cy="317.5" rx="5.2" ry="6.8" transform="rotate(-25 202.5 317.5)" fill="#e2e2e2" stroke="#3a3a3a" stroke-width="0.8" />
<ellipse cx="201.3" cy="318.0" rx="3.6" ry="5.2" transform="rotate(-25 201.3 318.0)" fill="#cfcfcf" stroke="#777" stroke-width="0.5" />
<ellipse cx="194.5" cy="321" rx="4.2" ry="6.2" transform="rotate(-25 194.5 321)" fill="#7a7a7a" stroke="#222" stroke-width="0.8" />
<ellipse cx="194.0" cy="321.5" rx="2.2" ry="3.2" transform="rotate(-25 194.0 321.5)" fill="#3a3a3a" />
<ellipse cx="149.5" cy="385" rx="4.2" ry="9" transform="rotate(-8 149.5 385)" fill="#8e8e8e" stroke="#333" stroke-width="0.9" />
<ellipse cx="149" cy="384" rx="2.2" ry="6" transform="rotate(-8 149 384)" fill="#b0b0b0" />
<ellipse cx="148.5" cy="399.5" rx="6.2" ry="8.5" transform="rotate(-15 148.5 399.5)" fill="#2c2c2c" />
<ellipse cx="147" cy="398" rx="3" ry="4" transform="rotate(-15 147 398)" fill="#5a5a5a" />
<ellipse cx="181.2" cy="410.3" rx="42.7" ry="21.5" transform="rotate(57.7 181.2 410.3)" fill="#d4d4d4" stroke="#444" stroke-width="1.0" />
<path d="M167.3,377.6 Q182,380 195.2,400.6 L188.6,405.8 Q181,398 173.6,393.6 Z" fill="#fdfdfd" stroke="#3a3a3a" stroke-width="0.8"/>
<polygon points="168.5,378.6 171.5,379 176.5,393.8 173.8,393.2" fill="#d6d6d6" />
<line x1="176.6" y1="394.2" x2="188.4" y2="405.4" stroke="#2a2a2a" stroke-width="1.2"/>
<polygon points="178.2,422.9 180.8,424.5 184,440 175.4,433.6" fill="#fdfdfd" stroke="#3a3a3a" stroke-width="0.8" />
<ellipse cx="180.4" cy="411.4" rx="2.2" ry="2.5" transform="rotate(0 180.4 411.4)" fill="#333" />
<ellipse cx="180" cy="412" rx="4" ry="4.5" transform="rotate(0 180 412)" fill="none" stroke="#777" stroke-width="0.7" />
<ellipse cx="174.5" cy="404.5" rx="1.0" ry="1.0" transform="rotate(0 174.5 404.5)" fill="#555" />
<ellipse cx="181.5" cy="403.5" rx="1.0" ry="1.0" transform="rotate(0 181.5 403.5)" fill="#555" />
<ellipse cx="186.4" cy="416.8" rx="1.0" ry="1.0" transform="rotate(0 186.4 416.8)" fill="#555" />
<ellipse cx="180" cy="418.2" rx="1.0" ry="1.0" transform="rotate(0 180 418.2)" fill="#555" />
<ellipse cx="180" cy="412" rx="12" ry="8" transform="rotate(60 180 412)" fill="none" stroke="#aaa" stroke-width="0.5" />
<polygon points="128.8,412.7 168.6,444.9 169,488.1 128,458.5" fill="#c6c6c6" stroke="#555" stroke-width="0.8" />
<polygon points="166.5,445 168.6,444.9 169,488.1 166.8,487" fill="#888" />
<polygon points="131.5,424 163,449 164,482 131,458" fill="#bcbcbc" stroke="#8a8a8a" stroke-width="0.6" />
<ellipse cx="139.8" cy="446.3" rx="13.8" ry="7" transform="rotate(58.7 139.8 446.3)" fill="#e8e8e8" stroke="#666" stroke-width="0.8" />
<ellipse cx="140.2" cy="446.5" rx="12.6" ry="5.9" transform="rotate(58.7 140.2 446.5)" fill="#fbfbfb" />
<ellipse cx="133" cy="452.5" rx="1.5" ry="1.5" transform="rotate(0 133 452.5)" fill="#333" />
<ellipse cx="151" cy="456" rx="1.2" ry="1.2" transform="rotate(0 151 456)" fill="#444" />
<ellipse cx="126" cy="454.8" rx="16.2" ry="7.6" transform="rotate(57 126 454.8)" fill="none" stroke="#3a3a3a" stroke-width="3.0" />
<ellipse cx="126" cy="454.8" rx="16.2" ry="7.6" transform="rotate(57 126 454.8)" fill="none" stroke="#a8a8a8" stroke-width="1.0" />
<polygon points="24.9,398.5 119.4,480.3 121.5,480.8 122.5,540 120.8,539.5" fill="#6a6a6a" />
<polygon points="24.9,398.5 119.4,480.3 120.8,539.5 23.5,463.3" fill="#999999" stroke="#666" stroke-width="0.8" />
<line x1="26" y1="400.5" x2="118.5" y2="481" stroke="#d8d8d8" stroke-width="1.2"/>
<polygon points="77,466.2 109.5,488.7 109.5,515.5 77,493" fill="#dedede" stroke="#555" stroke-width="0.8" />
<polygon points="77,466.2 109.5,488.7 109.5,490.5 78.5,469 78.5,494 77,493" fill="#777" />
<ellipse cx="26.5" cy="400" rx="1.6" ry="1.6" transform="rotate(0 26.5 400)" fill="#555" />
<ellipse cx="119" cy="481.5" rx="1.6" ry="1.6" transform="rotate(0 119 481.5)" fill="#555" />
<ellipse cx="119.5" cy="537" rx="1.6" ry="1.6" transform="rotate(0 119.5 537)" fill="#555" />
<ellipse cx="24.5" cy="461" rx="1.6" ry="1.6" transform="rotate(0 24.5 461)" fill="#555" />
<ellipse cx="79.5" cy="462.5" rx="1.6" ry="1.6" transform="rotate(0 79.5 462.5)" fill="#555" />
<ellipse cx="107" cy="486" rx="1.6" ry="1.6" transform="rotate(0 107 486)" fill="#555" />
<ellipse cx="107" cy="520" rx="1.6" ry="1.6" transform="rotate(0 107 520)" fill="#555" />
<ellipse cx="79.5" cy="497" rx="1.6" ry="1.6" transform="rotate(0 79.5 497)" fill="#555" />
<text class="t" x="272" y="191" textLength="163.6" lengthAdjust="spacingAndGlyphs">Cooled, full-frame CCD</text>
<text class="t" x="536.3" y="238.6" textLength="132.3" lengthAdjust="spacingAndGlyphs">Control electronics</text>
<text class="t" x="154.1" y="274" textLength="67" lengthAdjust="spacingAndGlyphs">ND filters</text>
<text class="t" x="84.1" y="365.3" textLength="53.6" lengthAdjust="spacingAndGlyphs">Shutter</text>
<text class="t" x="271.3" y="422.6" textLength="174.9" lengthAdjust="spacingAndGlyphs">CIE matched color filters</text>
<text class="t" x="181.6" y="491" textLength="81.5" lengthAdjust="spacingAndGlyphs">Lens mount</text>
<rect x="0.5" y="0.5" width="708" height="559" fill="none" stroke="#000" stroke-width="1"/>
</g>
</svg>
</body></html>
